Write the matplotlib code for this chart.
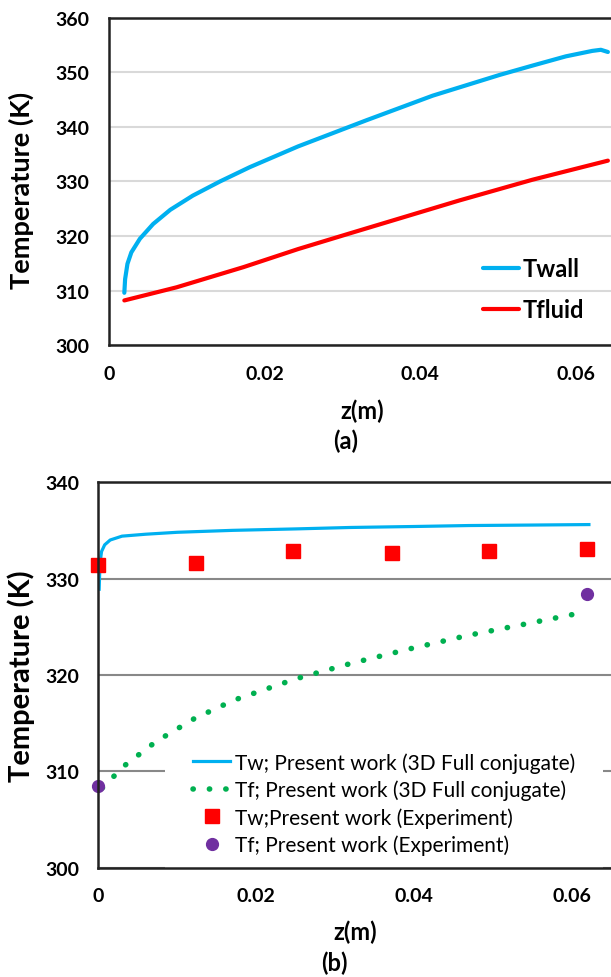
import matplotlib
matplotlib.use('Agg')
import matplotlib.pyplot as plt

plt.rcParams['font.family'] = ['Lato', 'DejaVu Sans']

# (a) Twall / Tfluid
za_wall = [0.0020, 0.0021, 0.0024, 0.0029, 0.0040, 0.0057, 0.0079, 0.0108, 0.0143, 0.0181,
           0.0243, 0.0331, 0.0416, 0.0502, 0.0544, 0.0587, 0.0621, 0.0632, 0.0641]
ta_wall = [309.6, 312.1, 314.9, 317.0, 319.5, 322.2, 324.8, 327.4, 330.0, 332.6,
           336.4, 341.2, 345.7, 349.5, 351.2, 352.9, 353.9, 354.1, 353.7]
za_fluid = [0.002, 0.0087, 0.0173, 0.0243, 0.031, 0.045, 0.0544, 0.0641]
ta_fluid = [308.2, 310.6, 314.3, 317.6, 320.5, 326.5, 330.3, 333.8]

# (b) simulation lines and experiment points
zb_wall = [0.0001, 0.0002, 0.0004, 0.0008, 0.0015, 0.003, 0.006, 0.010, 0.017, 0.025,
           0.032, 0.040, 0.047, 0.055, 0.0622]
tb_wall = [328.9, 331.5, 332.8, 333.5, 334.0, 334.4, 334.6, 334.8, 335.0, 335.15,
           335.3, 335.4, 335.5, 335.55, 335.6]
zb_fluid = [0.0005, 0.0033, 0.0073, 0.0122, 0.0172, 0.025, 0.032, 0.0394, 0.0468, 0.0542, 0.0609]
tb_fluid = [308.3, 310.6, 313.1, 315.5, 317.4, 319.6, 321.2, 322.7, 324.1, 325.3, 326.4]
z_exp_w = [0.0, 0.0124, 0.0247, 0.0372, 0.0495, 0.062]
t_exp_w = [331.4, 331.6, 332.9, 332.7, 332.85, 333.1]
z_exp_f = [0.0, 0.062]
t_exp_f = [308.5, 328.4]

xticks = [0, 0.02, 0.04, 0.06]
xticklabels = ['0', '0.02', '0.04', '0.06']

fig = plt.figure(figsize=(6.11, 9.78), dpi=100)

# ---- panel (a)
ax1 = fig.add_axes([0.178, 0.646, 0.822, 0.335])
ax1.plot(za_wall, ta_wall, color='#00b0f0', lw=3.0, label='Twall',
         solid_capstyle='round', solid_joinstyle='round')
ax1.plot(za_fluid, ta_fluid, color='#ff0000', lw=3.0, label='Tfluid',
         solid_capstyle='round', solid_joinstyle='round')
ax1.set_xlim(0, 0.0645)
ax1.set_ylim(300, 360)
ax1.set_yticks(range(300, 361, 10))
ax1.set_xticks(xticks)
ax1.set_xticklabels(xticklabels)
ax1.grid(axis='y', color='#d9d9d9', lw=1.5)
ax1.set_axisbelow(True)
for s in ['left', 'bottom', 'top']:
    ax1.spines[s].set_color('#222222')
    ax1.spines[s].set_linewidth(1.8)
ax1.spines['right'].set_visible(False)
ax1.tick_params(length=0, labelsize=14, pad=14)
for lab in ax1.get_xticklabels() + ax1.get_yticklabels():
    lab.set_fontweight('bold')
ax1.legend(loc='center left', bbox_to_anchor=(0.727, 0.171), frameon=False,
           prop={'weight': 'bold', 'size': 17}, handlelength=1.5, handletextpad=0.17,
           labelspacing=0.75, borderaxespad=0)
fig.text(0.0344, 0.805, 'Temperature (K)', rotation=90, ha='center', va='center',
         fontsize=19.5, fontweight='bold')
fig.text(0.592, 0.579, 'z(m)', ha='center', va='center', fontsize=17, fontweight='bold')
fig.text(0.566, 0.549, '(a)', ha='center', va='center', fontsize=17, fontweight='bold')

# ---- panel (b)
ax2 = fig.add_axes([0.161, 0.1115, 0.839, 0.3945])
ax2.plot(zb_wall, tb_wall, color='#00b0f0', lw=2.3, solid_joinstyle='round',
         label='Tw; Present work (3D Full conjugate)')
ax2.plot(zb_fluid, tb_fluid, color='#00b050', lw=4.0, linestyle=(0, (0.05, 2.9)),
         dash_capstyle='round', label='Tf; Present work (3D Full conjugate)')
ax2.plot(z_exp_w, t_exp_w, 's', color='#ff0000', ms=10, clip_on=False,
         label='Tw;Present work (Experiment)')
ax2.plot(z_exp_f, t_exp_f, 'o', color='#7030a0', ms=8.5, clip_on=False,
         label='Tf; Present work (Experiment)')
ax2.set_xlim(0, 0.065)
ax2.set_ylim(300, 340)
ax2.set_yticks(range(300, 341, 10))
ax2.set_xticks(xticks)
ax2.set_xticklabels(xticklabels)
ax2.grid(axis='y', color='#888888', lw=1.5)
ax2.set_axisbelow(True)
for s in ['left', 'bottom', 'top']:
    ax2.spines[s].set_color('#222222')
    ax2.spines[s].set_linewidth(1.8)
ax2.spines['right'].set_visible(False)
ax2.tick_params(length=0, labelsize=14, pad=14)
for lab in ax2.get_xticklabels() + ax2.get_yticklabels():
    lab.set_fontweight('bold')
leg = ax2.legend(loc='center left', bbox_to_anchor=(0.1296, 0.167), frameon=True,
                 fontsize=15, handlelength=1.8, handletextpad=0.2, labelspacing=0.33,
                 borderpad=1.35, borderaxespad=0, fancybox=False)
leg.get_frame().set_facecolor('white')
leg.get_frame().set_edgecolor('none')
leg.get_frame().set_alpha(1)
# keep the white box over the grid but under the data lines
leg.set_zorder(1.9)
fig.text(0.0344, 0.309, 'Temperature (K)', rotation=90, ha='center', va='center',
         fontsize=21, fontweight='bold')
fig.text(0.581, 0.047, 'z(m)', ha='center', va='center', fontsize=17, fontweight='bold')
fig.text(0.548, 0.0153, '(b)', ha='center', va='center', fontsize=17, fontweight='bold')

fig.savefig('out.png', dpi=100)
